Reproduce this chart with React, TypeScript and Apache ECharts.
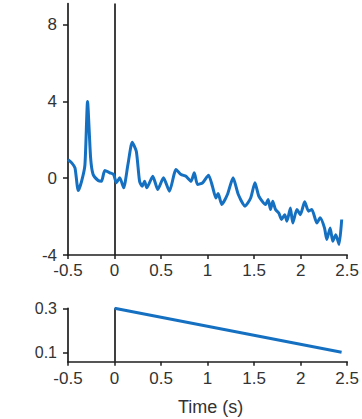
import React, { useEffect, useRef } from "react";
import * as echarts from "echarts";

const signalTime = [-0.5, -0.46, -0.425, -0.39, -0.354, -0.318, -0.29, -0.257, -0.23, -0.176, -0.14, -0.105, -0.05, -0.009, 0.02, 0.056, 0.098, 0.144, 0.19, 0.234, 0.269, 0.298, 0.323, 0.347, 0.411, 0.465, 0.526, 0.59, 0.661, 0.715, 0.768, 0.822, 0.857, 0.892, 0.946, 1.01, 1.052, 1.089, 1.113, 1.153, 1.213, 1.274, 1.33, 1.402, 1.463, 1.509, 1.551, 1.623, 1.651, 1.676, 1.7, 1.73, 1.765, 1.794, 1.829, 1.853, 1.89, 1.915, 1.96, 1.997, 2.043, 2.085, 2.12, 2.174, 2.21, 2.256, 2.281, 2.317, 2.345, 2.377, 2.413, 2.441];
const signalValue = [0.97, 0.8, 0.54, -0.64, -0.16, 0.7, 4.0, 1.06, 0.19, -0.12, -0.16, 0.4, 0.28, 0.19, -0.24, 0.02, -0.5, 0.71, 1.87, 1.4, -0.16, -0.42, -0.16, -0.5, 0.1, -0.59, 0.02, -0.68, 0.45, 0.19, 0.1, -0.16, 0.28, -0.33, -0.24, 0.16, -0.42, -1.03, -0.8, -1.37, -0.85, 0.02, -0.85, -1.46, -1.03, -0.24, -0.94, -1.37, -1.11, -1.63, -1.2, -1.63, -1.81, -2.15, -1.9, -2.24, -1.55, -2.33, -1.63, -1.9, -1.23, -1.72, -1.63, -2.33, -2.06, -2.59, -3.19, -2.59, -3.28, -2.94, -3.45, -2.15];

const stimTime = [0, 2.44];
const stimValue = [0.3, 0.1];

const xTicks = [-0.5, 0, 0.5, 1, 1.5, 2, 2.5];
const topYTicks = [-4, 0, 4, 8];
const bottomYTicks = [0.1, 0.3];
const xAxisName = "Time (s)";

const BLUE = "#1570c2";
const AXIS = "#1e1e1e";
const TEXT = "#333333";
const FONT = "Liberation Sans, Arial, sans-serif";

export default function App() {
  const ref = useRef<HTMLDivElement>(null);
  useEffect(() => {
    if (!ref.current) return;
    const chart = echarts.init(ref.current, undefined, { renderer: "svg" });
    const xAxisBase = (gridIndex: number, extra: any) => ({
      type: "value",
      gridIndex,
      min: -0.5,
      max: 2.5,
      interval: 0.5,
      axisLine: { show: true, onZero: false, lineStyle: { color: AXIS, width: 1.7 } },
      axisTick: { show: true, length: 4, lineStyle: { color: AXIS, width: 1.5 }, customValues: xTicks },
      axisLabel: { color: TEXT, fontSize: 17, fontFamily: FONT, margin: 7, customValues: xTicks },
      splitLine: { show: false },
      ...extra,
    });
    chart.setOption({
      animation: false,
      grid: [
        { left: 68, right: 13, top: 3.5, bottom: 164 },
        { left: 68, right: 13, top: 308.3, bottom: 57.3 },
      ],
      xAxis: [
        xAxisBase(0, {}),
        xAxisBase(1, {
          name: xAxisName,
          nameLocation: "middle",
          nameGap: 36,
          nameTextStyle: { color: TEXT, fontSize: 18, fontFamily: FONT, padding: [0, 0, 0, 6] },
          axisLabel: { color: TEXT, fontSize: 17, fontFamily: FONT, margin: 8, customValues: xTicks },
        }),
      ],
      yAxis: [
        {
          type: "value",
          gridIndex: 0,
          min: -4,
          max: 9.1,
          axisLine: { show: true, onZero: false, lineStyle: { color: AXIS, width: 1.7 } },
          axisTick: { show: true, length: 5, lineStyle: { color: AXIS, width: 1.5 }, customValues: topYTicks },
          axisLabel: { color: TEXT, fontSize: 17, fontFamily: FONT, margin: 11, customValues: topYTicks },
          splitLine: { show: false },
        },
        {
          type: "value",
          gridIndex: 1,
          min: 0.057,
          max: 0.3,
          axisLine: { show: true, onZero: false, lineStyle: { color: AXIS, width: 1.7 } },
          axisTick: { show: true, length: 5, lineStyle: { color: AXIS, width: 1.5 }, customValues: bottomYTicks },
          axisLabel: { color: TEXT, fontSize: 16, fontFamily: FONT, margin: 11, customValues: bottomYTicks },
          splitLine: { show: false },
        },
      ],
      series: [
        {
          type: "line",
          xAxisIndex: 0,
          yAxisIndex: 0,
          data: signalTime.map((t, i) => [t, signalValue[i]]),
          showSymbol: false,
          smooth: 0.2,
          lineStyle: { color: BLUE, width: 3 },
          z: 3,
          markLine: {
            silent: true,
            symbol: "none",
            label: { show: false },
            lineStyle: { color: AXIS, width: 1.7, type: "solid" },
            data: [{ xAxis: 0 }],
            z: 2,
          },
        },
        {
          type: "line",
          xAxisIndex: 1,
          yAxisIndex: 1,
          data: stimTime.map((t, i) => [t, stimValue[i]]),
          showSymbol: false,
          lineStyle: { color: BLUE, width: 3 },
          z: 3,
          markLine: {
            silent: true,
            symbol: "none",
            label: { show: false },
            lineStyle: { color: AXIS, width: 1.7, type: "solid" },
            data: [{ xAxis: 0 }],
            z: 2,
          },
        },
      ],
    });
    return () => chart.dispose();
  }, []);
  return <div ref={ref} style={{ width: 362, height: 419, position: "absolute", left: 0, top: 0 }} />;
}
